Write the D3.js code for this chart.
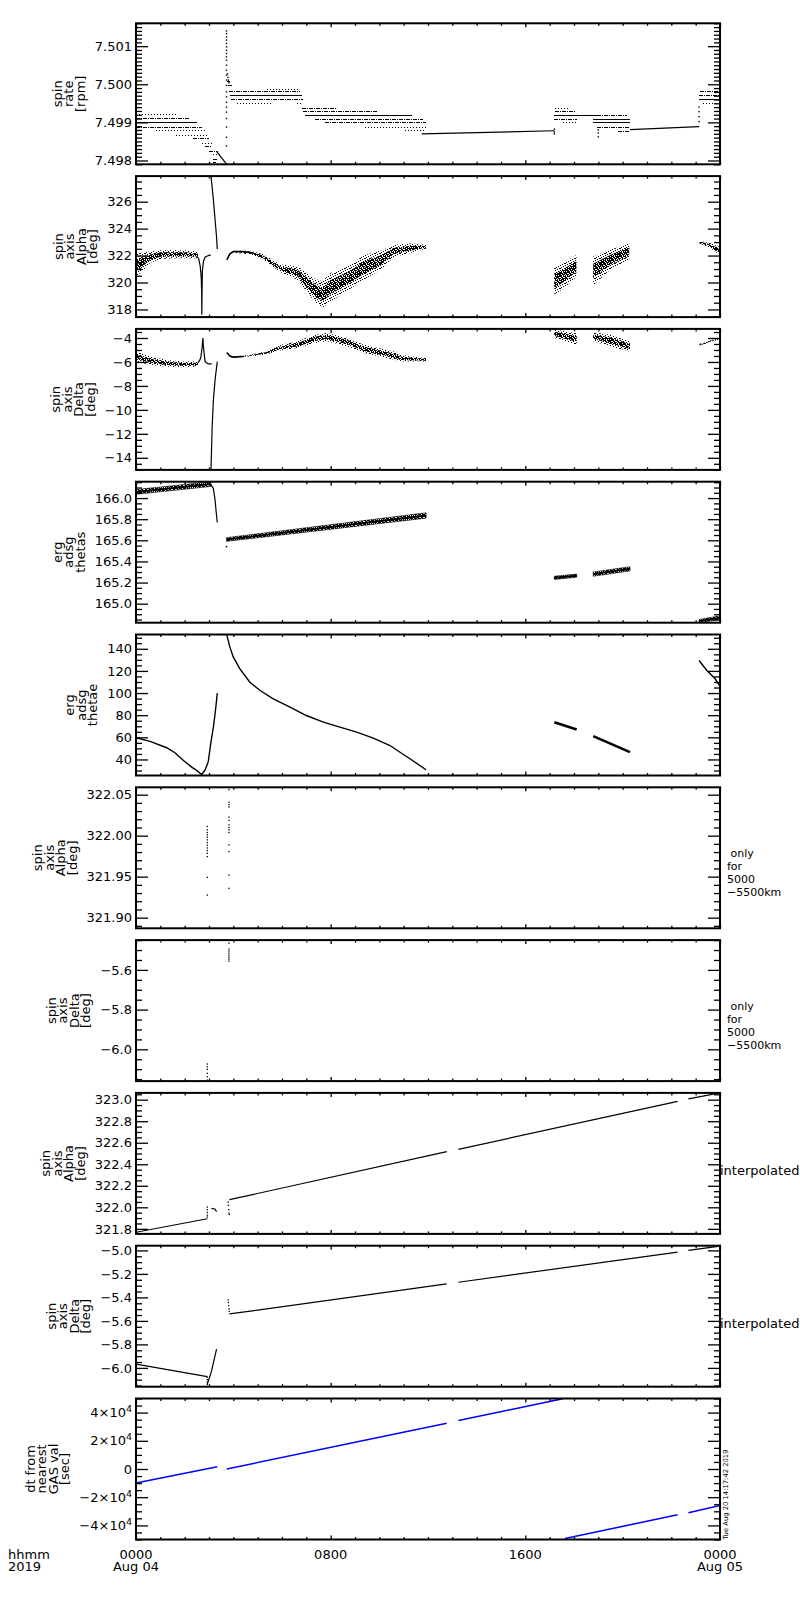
<!DOCTYPE html>
<html><head><meta charset="utf-8">
<script src="https://cdn.jsdelivr.net/npm/d3@7"></script>
<style>
body{margin:0;background:#fff;}
svg{display:block;font-family:"DejaVu Sans",sans-serif;}
</style></head><body>
<svg id="c" width="800" height="1600"></svg>
<script>
// ================= DATA =================
const timeDomain = [0, 24];                 // hours of 2019-08-04
const xMajorHours = [0, 8, 16, 24];
const xTickLine1 = ["0000", "0800", "1600", "0000"];
const xTickLine2 = ["Aug 04", "", "", "Aug 05"];
const xCornerLabels = ["hhmm", "2019"];
const stampText = "Tue Aug 20 14:17:42 2019";

const panelTitles = [
  ["spin","rate","[rpm]"],
  ["spin","axis","Alpha","[deg]"],
  ["spin","axis","Delta","[deg]"],
  ["erg","adsg","thetas"],
  ["erg","adsg","thetae"],
  ["spin","axis","Alpha","[deg]"],
  ["spin","axis","Delta","[deg]"],
  ["spin","axis","Alpha","[deg]"],
  ["spin","axis","Delta","[deg]"],
  ["dt from","nearest","GAS val","[sec]"]
];
const sideNotes = [null,null,null,null,null,
  [" only","for","5000","\u22125500km"],
  [" only","for","5000","\u22125500km"],
  ["interpolated"],["interpolated"],null];

const yDomains = [
  [7.49790, 7.50160],
  [317.43, 327.90],
  [-15.01, -3.24],
  [164.82, 166.155],
  [25.5, 152.9],
  [321.887, 322.059],
  [-6.16, -5.45],
  [321.753, 323.063],
  [-6.16, -4.96],
  [-50000, 50000]
];
const yMajorTicks = [
  [7.498,7.499,7.500,7.501],
  [318,320,322,324,326],
  [-14,-12,-10,-8,-6,-4],
  [165.0,165.2,165.4,165.6,165.8,166.0],
  [40,60,80,100,120,140],
  [321.90,321.95,322.00,322.05],
  [-6.0,-5.8,-5.6],
  [321.8,322.0,322.2,322.4,322.6,322.8,323.0],
  [-6.0,-5.8,-5.6,-5.4,-5.2,-5.0],
  [-40000,-20000,0,20000,40000]
];
const M = "\u2212";
const yTickLabels = [
  ["7.498","7.499","7.500","7.501"],
  ["318","320","322","324","326"],
  [M+"14",M+"12",M+"10",M+"8",M+"6",M+"4"],
  ["165.0","165.2","165.4","165.6","165.8","166.0"],
  ["40","60","80","100","120","140"],
  ["321.90","321.95","322.00","322.05"],
  [M+"6.0",M+"5.8",M+"5.6"],
  ["321.8","322.0","322.2","322.4","322.6","322.8","323.0"],
  [M+"6.0",M+"5.8",M+"5.6",M+"5.4",M+"5.2",M+"5.0"],
  [M+"4\u00d710^4",M+"2\u00d710^4","0","2\u00d710^4","4\u00d710^4"]
];
const yMinorCounts = [10,4,4,4,4,5,4,4,4,4];

// ---- panel 1: spin rate, quantised levels [level, from h, to h, fraction of samples]
const rateRows = [
  [7.49921,0.00,1.65,0.35],[7.49911,0.00,2.22,0.6],[7.49900,0.00,2.49,1],[7.49889,0.00,2.70,0.6],
  [7.49879,0.84,2.84,0.35],[7.49868,1.65,3.02,0.35],[7.49858,2.33,3.02,0.6],[7.49847,2.70,3.11,0.35],
  [7.49837,2.84,3.11,0.6],[7.49826,3.02,3.38,0.6],[7.49816,3.15,3.45,0.35],[7.49805,3.18,3.38,0.6],
  [7.49795,3.18,3.30,0.6],
  [7.50008,3.75,3.86,0.6],[7.49997,3.78,4.00,0.6],[7.49987,5.37,6.64,0.35],[7.49982,3.83,6.74,0.6],
  [7.49971,3.86,6.81,1],[7.49961,3.90,6.88,0.6],[7.49950,4.14,5.64,0.35],[7.49950,6.60,6.88,0.35],
  [7.49939,6.81,8.25,0.6],[7.49929,6.88,9.89,0.6],[7.49920,6.95,11.33,1],[7.49910,7.36,11.81,0.6],
  [7.49900,7.77,11.92,0.6],[7.49889,9.41,11.92,0.35],[7.49879,11.06,11.92,0.35],
  [7.49938,17.22,17.84,0.35],[7.49929,17.22,18.04,0.6],[7.49920,17.19,18.93,1],[7.49920,18.93,20.17,0.6],
  [7.49910,17.19,18.11,0.6],[7.49910,18.79,20.30,1],[7.49900,17.56,18.11,0.35],[7.49900,18.79,20.30,1],
  [7.49889,18.93,20.30,0.6],[7.49878,19.82,20.30,0.6],
  [7.49982,23.18,24.00,0.6],[7.49971,23.14,24.00,0.6],[7.49961,23.14,24.00,1],[7.49950,23.32,24.00,0.35]
];
const rateGapLines = [
  [[11.74,7.49870],[17.19,7.49878]],
  [[20.30,7.49881],[23.14,7.49889]]
];
const rateDrop = [[3.31,7.49824],[3.73,7.49790]];
const rateDots = [
  [3.72,7.50140],[3.72,7.50133],[3.72,7.50124],[3.72,7.50116],[3.72,7.50107],[3.72,7.50098],
  [3.72,7.50089],[3.72,7.50081],[3.72,7.50072],[3.72,7.50063],[3.72,7.50050],[3.72,7.50037],
  [3.72,7.50024],[3.72,7.50011],[3.72,7.49997],[3.72,7.49980],[3.72,7.49967],[3.72,7.49953],
  [3.72,7.49940],[3.72,7.49927],[3.72,7.49910],[3.72,7.49888],[3.72,7.49861],[3.72,7.49838],
  [3.76,7.50027],[3.78,7.50018],[3.80,7.50011],[3.82,7.50004],
  [17.19,7.49882],[17.19,7.49875],[17.19,7.49870],
  [19.00,7.49880],[19.00,7.49872],[19.00,7.49862],
  [23.14,7.49940],[23.14,7.49928],[23.14,7.49915],[23.14,7.49902]
];

// ---- panel 2: spin axis Alpha   bands [h, low, high], curves [h, value]
const alphaBandA = [[0.00,320.4,322.1],[0.30,320.9,322.25],[0.58,321.45,322.3],[1.00,321.75,322.4],
  [1.50,321.8,322.4],[2.00,321.8,322.4],[2.47,321.8,322.3],[2.55,321.9,322.2]];
const alphaDip = [[2.50,321.95],[2.58,321.75],[2.64,321.2],[2.68,320.4],[2.70,319.2],[2.705,317.6],
  [2.715,319.5],[2.73,320.9],[2.77,321.56],[2.84,321.88],[2.97,322.0],[3.07,322.05]];
const alphaSteep = [[3.08,327.94],[3.18,326.15],[3.25,324.66],[3.31,323.4],[3.34,322.48]];
const alphaRise = [[3.73,321.68],[3.86,322.13],[4.00,322.30],[4.41,322.30],[4.82,322.18]];
const alphaBandB = [[3.90,322.05,322.25],[4.00,322.2,322.35],[4.70,322.1,322.35],[5.23,321.7,322.1],
  [5.90,320.8,321.35],[6.64,320.2,321.2],[7.32,318.6,320.3],[7.66,318.1,320.1],[8.00,318.6,320.7],
  [8.70,319.4,321.2],[9.36,320.2,322.0],[10.10,321.0,322.4],[10.60,321.9,322.8],[11.30,322.2,322.9],
  [11.92,322.5,322.8]];
const alphaBandC1 = [[17.19,319.1,321.1],[17.60,319.6,321.5],[18.10,320.4,322.05]];
const alphaBandC2 = [[18.79,319.8,321.93],[19.48,320.93,322.42],[20.27,321.68,322.92]];
const alphaBandD = [[23.14,322.92,323.1],[23.62,322.55,322.92],[24.00,322.05,322.63]];

// ---- panel 3: spin axis Delta
const deltaBandA = [[0.00,-5.97,-5.13],[0.58,-6.24,-5.55],[1.26,-6.39,-5.83],[1.95,-6.44,-5.97],
  [2.47,-6.39,-5.97],[2.58,-6.3,-5.97]];
const deltaSpike = [[2.55,-6.05],[2.62,-5.85],[2.67,-5.55],[2.72,-4.7],[2.75,-4.0],[2.77,-4.7],
  [2.80,-5.26],[2.84,-5.97],[2.97,-6.16],[3.11,-6.16]];
const deltaSteep = [[3.08,-15.0],[3.13,-11.43],[3.18,-9.18],[3.25,-7.5],[3.34,-5.97]];
const deltaDrop = [[3.73,-5.21],[3.86,-5.5],[4.00,-5.6],[4.41,-5.55]];
const deltaBandB = [[3.90,-5.6,-5.45],[4.00,-5.65,-5.55],[4.68,-5.55,-5.4],[5.37,-5.35,-5.1],
  [6.00,-5.0,-4.55],[6.64,-4.84,-4.28],[7.32,-4.42,-3.72],[7.86,-4.28,-3.58],[8.70,-4.7,-4.0],
  [9.36,-5.26,-4.56],[10.60,-5.82,-5.12],[10.85,-5.97,-5.4],[11.92,-5.97,-5.68]];
const deltaBandC1 = [[17.19,-4.0,-3.3],[18.11,-4.56,-3.6]];
const deltaBandC2 = [[18.79,-4.28,-3.53],[19.50,-4.7,-3.72],[20.30,-5.12,-4.28]];
const deltaBandD = [[23.14,-4.65,-4.5],[24.00,-4.1,-3.95]];

// ---- panel 4: erg adsg thetas
const thetasBandA = [[0.00,166.035,166.08],[3.07,166.11,166.155]];
const thetasDrop = [[3.07,166.13],[3.18,166.09],[3.25,165.98],[3.29,165.88],[3.34,165.77]];
const thetasDots = [[3.72,165.54]];
const thetasBandB = [[3.72,165.59,165.625],[11.92,165.81,165.86]];
const thetasBandC1 = [[17.19,165.23,165.26],[18.11,165.25,165.28]];
const thetasBandC2 = [[18.79,165.26,165.30],[20.30,165.31,165.35]];
const thetasBandD = [[23.14,164.82,164.85],[24.00,164.85,164.885]];

// ---- panel 5: erg adsg thetae
const thetaeA = [[0.00,59.6],[0.58,56.3],[1.26,50.6],[1.60,46.1],[1.95,39.1],[2.29,33.1],[2.49,30.1],
  [2.70,26.4],[2.84,30.5],[2.97,38.0],[3.07,54.2],[3.18,69.2],[3.25,81.3],[3.31,93.3],[3.34,99.9]];
const thetaeB = [[3.73,152.5],[3.86,141.5],[4.00,132.4],[4.27,121.9],[4.68,109.8],[5.10,102.3],
  [5.64,94.8],[6.33,87.3],[7.00,79.7],[7.70,73.7],[8.38,69.2],[9.07,64.7],[9.75,59.2],[10.44,52.6],
  [10.85,46.5],[11.26,40.6],[11.92,30.7]];
const thetaeC1 = [[17.19,73.7],[18.11,67.1]];
const thetaeC2 = [[18.79,61.1],[20.30,46.6]];
const thetaeD = [[23.14,129.4],[23.46,120.4],[23.80,112.9],[24.00,106.0]];

// ---- panel 6 / 7: only for 5000-5500 km
const alpha5kDots = [
  [2.93,322.0112],[2.93,322.0071],[2.93,322.0038],[2.93,322.0010],[2.93,321.9981],[2.93,321.9949],
  [2.93,321.9916],[2.93,321.9883],[2.93,321.9850],[2.93,321.9818],[2.93,321.9785],[2.93,321.9744],
  [2.93,321.9491],[2.93,321.9275],
  [3.82,322.0561],[3.82,322.0406],[3.82,322.0377],[3.82,322.0349],[3.82,322.0227],[3.82,322.0186],
  [3.82,322.0132],[3.82,322.0099],[3.82,322.0071],[3.82,322.0038],[3.82,321.9887],[3.82,321.9805],
  [3.82,321.9520],[3.82,321.9357]];
const delta5kDots = [
  [3.82,-5.4654],[3.82,-5.4956],[3.82,-5.5057],[3.82,-5.5157],[3.82,-5.5259],[3.82,-5.5360],
  [3.82,-5.5460],[3.82,-5.5560],
  [2.93,-6.074],[2.93,-6.088],[2.93,-6.101],[2.93,-6.121],[2.93,-6.138],[2.93,-6.155]];

// ---- panel 8: interpolated Alpha
const alphaInterpA = [[0.00,321.768],[2.93,321.894]];
const alphaInterpHook = [[3.10,321.99],[3.24,321.985],[3.31,321.96]];
const alphaInterpB = [[3.84,322.071],[12.77,322.517]];
const alphaInterpC = [[13.25,322.539],[22.26,322.984]];
const alphaInterpD = [[22.70,323.007],[24.00,323.063]];
const alphaInterpDots = [[2.93,322.002],[2.93,321.978],[2.93,321.952],[2.93,321.927],[2.93,321.909],
  [3.79,322.049],[3.80,322.018],[3.81,321.978],[3.82,321.946],[3.83,321.934]];

// ---- panel 9: interpolated Delta
const deltaInterpA = [[0.00,-5.968],[2.93,-6.074]];
const deltaInterpRise = [[2.93,-6.139],[3.10,-6.03],[3.31,-5.84]];
const deltaInterpB = [[3.84,-5.541],[12.77,-5.285]];
const deltaInterpC = [[13.25,-5.271],[22.26,-5.014]];
const deltaInterpD = [[22.70,-5.000],[24.00,-4.963]];
const deltaInterpDots = [[2.93,-6.08],[2.93,-6.10],[2.93,-6.12],[2.93,-6.14],[2.93,-6.16],
  [3.79,-5.421],[3.80,-5.442],[3.81,-5.470],[3.82,-5.499],[3.83,-5.519]];

// ---- panel 10: dt from nearest GAS val [sec]
const dtSegA = [[0.00,-9890],[3.34,1630]];
const dtSegB = [[3.73,0],[12.77,32500]];
const dtSegC = [[13.25,34350],[17.54,49900]];
const dtSegD = [[17.63,-49250],[22.26,-32500]];
const dtSegE = [[22.70,-31100],[24.00,-25940]];

// ================= DRAWING =================
const FONT = "DejaVu Sans";
const svg = d3.select("#c");
const plotLeft = 136, plotRight = 720;
const panelTop0 = 23.3, panelPitch = 152.8, panelHeight = 141;
const x = d3.scaleLinear().domain(timeDomain).range([plotLeft, plotRight]);

svg.append("rect").attr("width",800).attr("height",1600).attr("fill","#fff");
const defs = svg.append("defs");
function pattern(id, size, cells) {
  const p = defs.append("pattern").attr("id", id).attr("width", size).attr("height", size)
    .attr("patternUnits", "userSpaceOnUse");
  cells.forEach(c => p.append("rect").attr("x", c[0]).attr("y", c[1]).attr("width", 1).attr("height", 1).attr("fill", "#000"));
}
pattern("speckSparse", 5, [[0,0],[3,1],[1,2],[4,3],[2,4],[0,3]]);
pattern("speckDense", 4, [[0,0],[1,0],[3,0],[1,1],[2,1],[0,2],[2,2],[3,2],[1,3],[3,3]]);

function line(g, pts, xs, ys, w, color) {
  g.append("path").datum(pts)
    .attr("d", d3.line().x(d => xs(d[0])).y(d => ys(d[1])))
    .attr("fill", "none").attr("stroke", color || "#000").attr("stroke-width", w || 1.2);
}
function dots(g, pts, xs, ys, s) {
  s = s || 1.5;
  g.selectAll(null).data(pts).enter().append("rect")
    .attr("x", d => xs(d[0]) - s / 2).attr("y", d => ys(d[1]) - s / 2)
    .attr("width", s).attr("height", s).attr("fill", "#000");
}
function band(g, rows, xs, ys, dense) {
  g.append("path").datum(rows)
    .attr("d", d3.area().x(d => xs(d[0])).y0(d => ys(d[1])).y1(d => ys(d[2])))
    .attr("fill", dense ? "url(#speckDense)" : "url(#speckSparse)")
    .attr("stroke", dense ? "#000" : "none").attr("stroke-width", dense ? 0.6 : 0);
  if (!dense) {
    g.append("path").datum(rows)
      .attr("d", d3.area().x(d => xs(d[0]))
        .y0(d => ys(d[1] + (d[2] - d[1]) * 0.25)).y1(d => ys(d[2] - (d[2] - d[1]) * 0.25)))
      .attr("fill", "url(#speckDense)");
  } else {
    g.append("path").datum(rows)
      .attr("d", d3.line().x(d => xs(d[0])).y(d => ys((d[1] + d[2]) / 2)))
      .attr("fill", "none").attr("stroke", "#000").attr("stroke-width", 2);
  }
}

for (let i = 0; i < 10; i++) {
  const top = panelTop0 + i * panelPitch, bottom = top + panelHeight;
  const y = d3.scaleLinear().domain(yDomains[i]).range([bottom, top]);
  const g = svg.append("g");
  defs.append("clipPath").attr("id", "clip" + i).append("rect")
    .attr("x", plotLeft).attr("y", top).attr("width", plotRight - plotLeft).attr("height", panelHeight);
  const c = g.append("g").attr("clip-path", `url(#clip${i})`);

  if (i === 0) {
    c.selectAll(null).data(rateRows).enter().append("line")
      .attr("x1", d => x(d[1])).attr("x2", d => x(d[2]))
      .attr("y1", d => Math.round(y(d[0])) + 0.5).attr("y2", d => Math.round(y(d[0])) + 0.5)
      .attr("stroke", "#000").attr("stroke-width", 1.2).attr("shape-rendering", "crispEdges")
      .attr("stroke-dasharray", d => d[3] >= 1 ? null : (d[3] >= 0.5 ? "4,1,1,1" : "1,2"));
    rateGapLines.forEach(s => line(c, s, x, y, 1.2));
    line(c, rateDrop, x, y, 1.2);
    dots(c, rateDots, x, y, 1.4);
  } else if (i === 1) {
    [alphaBandA, alphaBandB, alphaBandC1, alphaBandC2, alphaBandD].forEach(b => band(c, b, x, y, false));
    line(c, alphaDip, x, y, 1.2); line(c, alphaSteep, x, y, 1.2); line(c, alphaRise, x, y, 1.6);
  } else if (i === 2) {
    [deltaBandA, deltaBandB, deltaBandC1, deltaBandC2, deltaBandD].forEach(b => band(c, b, x, y, false));
    line(c, deltaSpike, x, y, 1.2); line(c, deltaSteep, x, y, 1.2); line(c, deltaDrop, x, y, 1.6);
  } else if (i === 3) {
    [thetasBandA, thetasBandB, thetasBandC1, thetasBandC2, thetasBandD].forEach(b => band(c, b, x, y, true));
    line(c, thetasDrop, x, y, 1.2); dots(c, thetasDots, x, y, 1.5);
  } else if (i === 4) {
    line(c, thetaeA, x, y, 1.4); line(c, thetaeB, x, y, 1.4); line(c, thetaeD, x, y, 1.4);
    line(c, thetaeC1, x, y, 2.6); line(c, thetaeC2, x, y, 2.6);
  } else if (i === 5) {
    dots(c, alpha5kDots, x, y, 1.3);
  } else if (i === 6) {
    dots(c, delta5kDots, x, y, 1.3);
  } else if (i === 7) {
    [alphaInterpA, alphaInterpHook, alphaInterpB, alphaInterpC, alphaInterpD].forEach(s => line(c, s, x, y, 1.2));
    dots(c, alphaInterpDots, x, y, 1.3);
  } else if (i === 8) {
    [deltaInterpA, deltaInterpRise, deltaInterpB, deltaInterpC, deltaInterpD].forEach(s => line(c, s, x, y, 1.2));
    dots(c, deltaInterpDots, x, y, 1.3);
  } else if (i === 9) {
    [dtSegA, dtSegB, dtSegC, dtSegD, dtSegE].forEach(s => line(c, s, x, y, 1.5, "#0000ff"));
  }

  // ----- axes
  const majors = yMajorTicks[i];
  const step = (majors[1] - majors[0]) / yMinorCounts[i];
  const minors = [];
  const k0 = Math.ceil((yDomains[i][0] - majors[0]) / step - 1e-9);
  const k1 = Math.floor((yDomains[i][1] - majors[0]) / step + 1e-9);
  for (let k = k0; k <= k1; k++) if (((k % yMinorCounts[i]) + yMinorCounts[i]) % yMinorCounts[i] !== 0) minors.push(majors[0] + k * step);

  const styleAxis = a => { a.select(".domain").remove(); a.selectAll("line").attr("stroke", "#000").attr("stroke-width", 1.3); };

  const axL = g.append("g").attr("transform", `translate(${plotLeft},0)`)
    .call(d3.axisLeft(y).tickValues(majors).tickFormat(() => "").tickSizeInner(-12).tickSizeOuter(0).tickPadding(4));
  axL.attr("font-size", 13).attr("font-family", FONT);
  styleAxis(axL);
  axL.selectAll(".tick text").attr("fill", "#000").each(function (d) {
    const lab = yTickLabels[i][majors.indexOf(d)];
    const t = d3.select(this); t.text(null);
    const parts = lab.split("^");
    t.append("tspan").text(parts[0]);
    if (parts[1]) t.append("tspan").attr("dy", "-0.55em").attr("font-size", "9.5px").text(parts[1]);
  });
  const axLm = g.append("g").attr("transform", `translate(${plotLeft},0)`)
    .call(d3.axisLeft(y).tickValues(minors).tickFormat(() => "").tickSizeInner(-6).tickSizeOuter(0));
  styleAxis(axLm);
  const axR = g.append("g").attr("transform", `translate(${plotRight},0)`)
    .call(d3.axisRight(y).tickValues(majors).tickFormat(() => "").tickSizeInner(-12).tickSizeOuter(0));
  styleAxis(axR);
  const axRm = g.append("g").attr("transform", `translate(${plotRight},0)`)
    .call(d3.axisRight(y).tickValues(minors).tickFormat(() => "").tickSizeInner(-6).tickSizeOuter(0));
  styleAxis(axRm);

  const xMinor = d3.range(1, 24).filter(h => h % 8 !== 0);
  [[d3.axisBottom, bottom], [d3.axisTop, top]].forEach(([fn, yy]) => {
    const a1 = g.append("g").attr("transform", `translate(0,${yy})`)
      .call(fn(x).tickValues(xMajorHours).tickFormat(() => "").tickSizeInner(-4).tickSizeOuter(0));
    styleAxis(a1);
    const a2 = g.append("g").attr("transform", `translate(0,${yy})`)
      .call(fn(x).tickValues(xMinor).tickFormat(() => "").tickSizeInner(-2.5).tickSizeOuter(0));
    styleAxis(a2);
  });

  g.append("rect").attr("x", plotLeft).attr("y", top).attr("width", plotRight - plotLeft).attr("height", panelHeight)
    .attr("fill", "none").attr("stroke", "#000").attr("stroke-width", 2);

  // ----- y title (rotated, multi-line, one text element)
  const bb = axL.node().getBBox();
  const labelsLeft = plotLeft + bb.x;
  const lines = panelTitles[i];
  const cy = (top + bottom) / 2;
  const X0 = labelsLeft - 10 - (lines.length - 1) * 11.5;
  const tt = g.append("text").attr("transform", `translate(${X0},${cy}) rotate(-90)`)
    .attr("text-anchor", "middle").attr("font-size", 13).attr("font-family", FONT).attr("fill", "#000");
  lines.forEach((s, k) => tt.append("tspan").attr("x", 0).attr("y", k * 11.5).text(s));

  // ----- side notes
  const note = sideNotes[i];
  if (note) {
    if (note.length > 1) {
      const nt = g.append("text").style("white-space", "pre")
        .attr("font-size", 11).attr("font-family", FONT).attr("fill", "#000");
      note.forEach((s, k) => nt.append("tspan").attr("x", 727).attr("y", cy - 1 + k * 13).text(s));
    } else {
      g.append("text").attr("x", 720).attr("y", cy + 11.5)
        .attr("font-size", 13).attr("font-family", FONT).attr("fill", "#000").text(note[0]);
    }
  }

  if (i === 9) {
    xMajorHours.forEach((h, k) => {
      const lt = g.append("text").attr("text-anchor", "middle")
        .attr("font-size", 13).attr("font-family", FONT).attr("fill", "#000");
      lt.append("tspan").attr("x", x(h)).attr("y", bottom + 19).text(xTickLine1[k]);
      if (xTickLine2[k]) lt.append("tspan").attr("x", x(h)).attr("y", bottom + 31.5).text(xTickLine2[k]);
    });
    const ct = g.append("text").attr("font-size", 13).attr("font-family", FONT).attr("fill", "#000");
    xCornerLabels.forEach((s, k) => ct.append("tspan").attr("x", 8).attr("y", bottom + 19 + k * 12.5).text(s));
    g.append("text").attr("transform", `translate(728,${bottom}) rotate(-90)`)
      .attr("font-size", 6.8).attr("font-family", FONT).attr("fill", "#000").text(stampText);
  }
}
</script>
</body></html>
